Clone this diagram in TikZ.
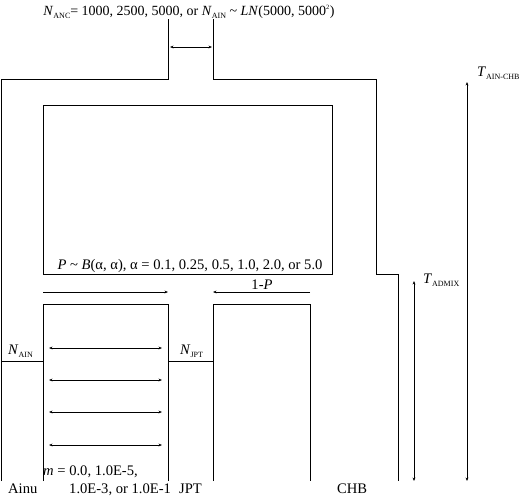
\documentclass[tikz,border=0pt]{standalone}
\usepackage{fontspec}
\setmainfont{Liberation Serif}
\usetikzlibrary{arrows.meta}
\newcommand{\popsub}[1]{\raisebox{-0.5ex}{\fontsize{8}{9}\selectfont #1}}
\begin{document}
\begin{tikzpicture}[x=1pt, y=-1pt, >={Stealth[length=3.5pt,width=2.8pt]},
	every node/.style={inner sep=0pt, font=\fontsize{14.6}{16}\selectfont},
	pop/.style={line width=1pt},
	flow/.style={line width=0.9pt, <->}]
	\useasboundingbox (0,0) rectangle (520,499);
	
	% Ancestral neck and outer walls
	\coordinate (nl) at (168, 19);
	\coordinate (nr) at (213, 19);
	\coordinate (al) at (168, 79);
	\coordinate (ar) at (213, 79);
	\coordinate (ol) at (1, 79);
	\coordinate (or) at (376, 79);
	\coordinate (sa) at (376, 274);
	\coordinate (sb) at (398, 274);
	\coordinate (ob) at (1, 481);
	\coordinate (cb) at (398, 481);
	
	% Admixture box and lower populations
	\coordinate (bx1) at (43, 105);
	\coordinate (bx2) at (332, 274);
	\coordinate (ainTL) at (43, 304);
	\coordinate (ainTR) at (168, 304);
	\coordinate (ainBL) at (43, 481);
	\coordinate (ainBR) at (168, 481);
	\coordinate (jptTL) at (213, 304);
	\coordinate (jptTR) at (310, 304);
	\coordinate (jptBL) at (213, 481);
	\coordinate (jptBR) at (310, 481);
	
	% Walls
	\draw[pop] (ob) -- (ol) -- (al) -- (nl);
	\draw[pop] (nr) -- (ar) -- (or) -- (sa) -- (sb) -- (cb);
	\draw[pop] (bx1) rectangle (bx2);
	\draw[pop] (ainBL) -- (ainTL) -- (ainTR) -- (ainBR);
	\draw[pop] (jptBL) -- (jptTL) -- (jptTR) -- (jptBR);
	\draw[pop] (1, 361) -- (43, 361); % N_AIN
	\draw[pop] (168, 361) -- (213, 361); % N_JPT
	
	% Arrows
	\draw[flow] (170, 47) -- (212, 47);
	\draw[line width=0.9pt, ->] (43, 292) -- (168, 292);
	\draw[line width=0.9pt, ->] (310, 292) -- (213, 292);
	\foreach \y in {348, 380, 412, 445}
		\draw[flow] (49, \y) -- (162, \y);
	\draw[flow] (414, 281) -- (414, 481);
	\draw[flow] (467, 82) -- (467, 481);
	
	% Labels
	\node[anchor=base, font=\fontsize{14}{15}\selectfont] (nanc) at (189, 15) {\textit{N}\popsub{ANC}= 1000, 2500, 5000, or \textit{N}\popsub{AIN} \textasciitilde{} \textit{LN}(5000, 5000\textsuperscript{\fontsize{6.5}{7}\selectfont 2})};
	\node[anchor=base] (beta) at (190, 269) {\textit{P} \textasciitilde{} \textit{B}(α, α), α = 0.1, 0.25, 0.5, 1.0, 2.0, or 5.0};
	\node[anchor=base] (onep) at (262, 289) {1-\textit{P}};
	\node[anchor=base west] (nain) at (8, 354) {\textit{N}\popsub{AIN}};
	\node[anchor=base west] (njpt) at (180, 354) {\textit{N}\popsub{JPT}};
	\node[anchor=base west] (mig1) at (43, 475) {\textit{m} = 0.0, 1.0E-5,};
	\node[anchor=base west] (mig2) at (69, 493) {1.0E-3, or 1.0E-1};
	\node[anchor=base west] (ainu) at (8, 493) {Ainu};
	\node[anchor=base west] (jpt) at (179, 493) {JPT};
	\node[anchor=base west] (chb) at (337, 493) {CHB};
	\node[anchor=base west] (tadm) at (423, 283) {\textit{T}\popsub{ADMIX}};
	\node[anchor=base west] (tain) at (477, 76) {\textit{T}\popsub{AIN-CHB}};
\end{tikzpicture}
\end{document}
